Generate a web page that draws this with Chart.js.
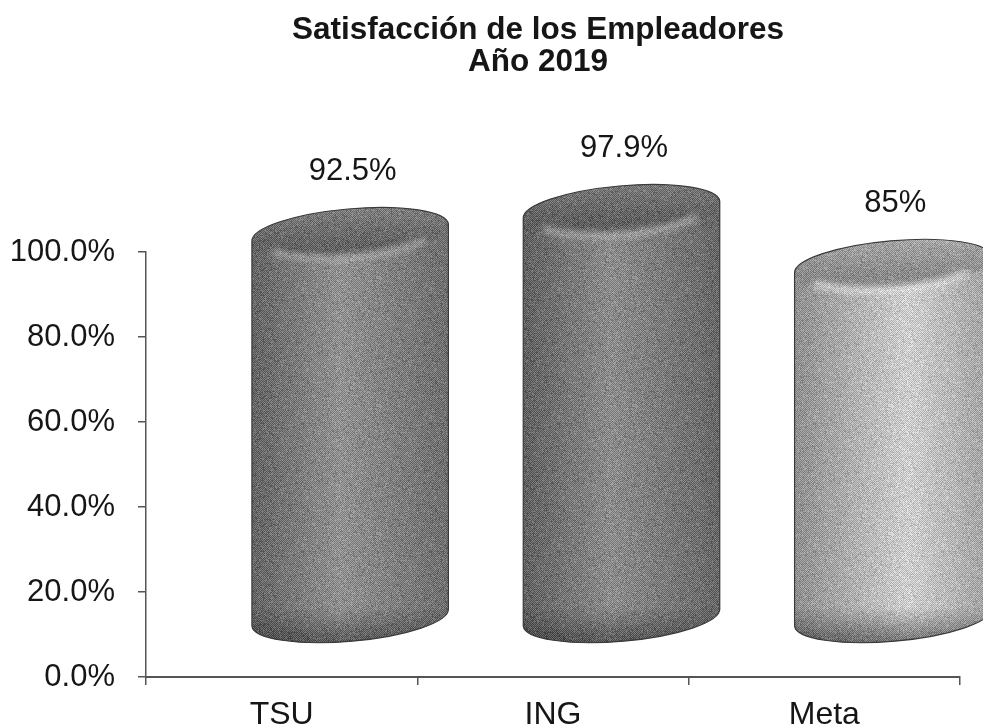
<!DOCTYPE html>
<html>
<head>
<meta charset="utf-8">
<title>Satisfacción de los Empleadores</title>
<script src="https://cdn.jsdelivr.net/npm/chart.js@4"></script>
<style>
  html, body { margin: 0; padding: 0; background: #fff; overflow: hidden; }
  #box { width: 983px; height: 728px; }
</style>
</head>
<body>
<div id="box"><canvas id="myChart"></canvas></div>
<script>
// Values
const categories = ["TSU", "ING", "Meta"];
const satisfaction = [92.5, 97.9, 85];
const valueLabels = ["92.5%", "97.9%", "85%"];
const titleLines = ["Satisfacción de los Empleadores", "Año 2019"];

// Shades for each cylinder: left edge, lit part, right edge
const bodyShades = [
  ["#5e5e5e", "#949494", "#6a6a6a"],
  ["#5a5a5a", "#8e8e8e", "#626262"],
  ["#929292", "#dedede", "#a8a8a8"],
];
const capShades = [
  ["#5e5e5e", "#808080"],
  ["#5a5a5a", "#787878"],
  ["#8c8c8c", "#aeaeae"],
];
const shineColors = ["#bcbcbc", "#c0c0c0", "#ffffff"];

const fontFamily = '"Liberation Sans", Arial, sans-serif';
const inkColor = "#161616";
const tilt = -5 * Math.PI / 180;

// Halftone look of the scan, a fixed checker with a hash on top
function halftone(ctx) {
  let size = 128;
  let c = document.createElement("canvas");
  c.width = c.height = size;
  let g = c.getContext("2d");
  let img = g.createImageData(size, size);
  for (let y = 0; y < size; y++) {
    for (let x = 0; x < size; x++) {
      let h = ((x * 7919) ^ (y * 104729) ^ (x * y * 31)) % 97;
      let on = (x + y) % 2 == 0;
      if (h < 10) on = !on;
      let p = (y * size + x) * 4;
      let v = on ? 255 : 0;
      img.data[p] = img.data[p + 1] = img.data[p + 2] = v;
      img.data[p + 3] = 34 + h % 22;
    }
  }
  g.putImageData(img, 0, 0);
  return ctx.createPattern(c, "repeat");
}

function cylinderPath(ctx, cx, topY, botY, rx, ry) {
  ctx.beginPath();
  ctx.ellipse(cx, topY, rx, ry, tilt, Math.PI, Math.PI * 2);
  ctx.ellipse(cx, botY, rx, ry, tilt, 0, Math.PI);
  ctx.closePath();
}

const cylinders = {
  id: "cylinders",
  afterLayout(chart) {
    // original title sits a bit left of the plot's centre
    chart.titleBlock.left = 93;
    chart.titleBlock.right = 983;
  },
  afterDatasetsDraw(chart) {
    let ctx = chart.ctx;
    let pattern = halftone(ctx);
    chart.getDatasetMeta(0).data.forEach((bar, i) => {
      // Picture has the bars pushed back and to the right, 3D style
      let cx = bar.x + 68.5;
      let topY = bar.y - 51;
      let botY = bar.base - 59;
      let rx = bar.width / 2;
      let ry = 24;
      let left = cx - rx, right = cx + rx;

      ctx.save();
      cylinderPath(ctx, cx, topY, botY, rx, ry);
      ctx.clip();

      let body = ctx.createLinearGradient(left, 0, right, 0);
      body.addColorStop(0, bodyShades[i][0]);
      body.addColorStop(i == 2 ? 0.58 : 0.45, bodyShades[i][1]);
      body.addColorStop(1, bodyShades[i][2]);
      ctx.fillStyle = body;
      ctx.fillRect(left - 2, topY - 40, rx * 2 + 4, botY - topY + 90);

      // darker rim along the lower edge
      let low = ctx.createLinearGradient(0, botY - 10, 0, botY + 26);
      low.addColorStop(0, "rgba(40,40,40,0)");
      low.addColorStop(1, "rgba(40,40,40,0.6)");
      ctx.fillStyle = low;
      ctx.fillRect(left - 2, botY - 30, rx * 2 + 4, 70);

      // top cap
      let cap = ctx.createLinearGradient(0, topY - 26, 0, topY + 22);
      cap.addColorStop(0, capShades[i][1]);
      cap.addColorStop(0.75, capShades[i][0]);
      cap.addColorStop(1, capShades[i][0]);
      ctx.fillStyle = cap;
      ctx.filter = "blur(1.5px)";
      ctx.beginPath();
      ctx.ellipse(cx, topY, rx + 4, ry, tilt, 0, Math.PI * 2);
      ctx.fill();
      ctx.filter = "none";

      // shine on the front lip of the cap
      ctx.save();
      ctx.filter = "blur(3px)";
      ctx.strokeStyle = shineColors[i];
      ctx.lineWidth = 5;
      ctx.beginPath();
      ctx.ellipse(cx, topY, rx - 8, ry, tilt, 0.6, Math.PI - 0.5);
      ctx.stroke();
      ctx.restore();

      ctx.fillStyle = pattern;
      ctx.fillRect(left - 2, topY - 40, rx * 2 + 4, botY - topY + 90);
      ctx.restore();

      ctx.strokeStyle = "#3a3a3a";
      ctx.lineWidth = 1.2;
      cylinderPath(ctx, cx, topY, botY, rx, ry);
      ctx.stroke();

      // value over the cylinder
      ctx.fillStyle = inkColor;
      ctx.font = "31px " + fontFamily;
      ctx.textAlign = "center";
      ctx.textBaseline = "middle";
      ctx.fillText(valueLabels[i], bar.x + 71, bar.y - 112.5);
    });
  },
};

let ctx = document.getElementById("myChart").getContext("2d");
let myChart = new Chart(ctx, {
  type: "bar",
  data: {
    labels: categories,
    datasets: [{
      label: "Satisfacción",
      data: satisfaction,
      backgroundColor: "rgba(0,0,0,0)",
      barPercentage: 0.727,
      categoryPercentage: 1,
    }],
  },
  options: {
    responsive: true,
    maintainAspectRatio: false,
    animation: false,
    layout: { padding: { left: 4, right: 23, top: 0, bottom: 0 } },
    plugins: {
      legend: { display: false },
      tooltip: { enabled: false },
      title: {
        display: true,
        text: titleLines,
        color: inkColor,
        font: { family: fontFamily, size: 31.5, weight: "bold", lineHeight: 1.016 },
        padding: { top: 14, bottom: 174 },
      },
    },
    scales: {
      x: {
        afterFit(scale) { scale.height = 51; },
        grid: { drawOnChartArea: false, color: "#555", tickLength: 8, lineWidth: 1.5 },
        border: { color: "#555", width: 2 },
        ticks: { color: inkColor, font: { family: fontFamily, size: 32 }, padding: 11, maxRotation: 0 },
      },
      y: {
        min: 0,
        max: 100,
        afterFit(scale) { scale.width = 142; },
        grid: { drawOnChartArea: false, color: "#555", tickLength: 8, lineWidth: 1.5 },
        border: { color: "#555", width: 1.5 },
        ticks: {
          stepSize: 20,
          color: inkColor,
          font: { family: fontFamily, size: 31 },
          padding: 23,
          callback: (value) => value.toFixed(1) + "%",
        },
      },
    },
  },
  plugins: [cylinders],
});
</script>
</body>
</html>
